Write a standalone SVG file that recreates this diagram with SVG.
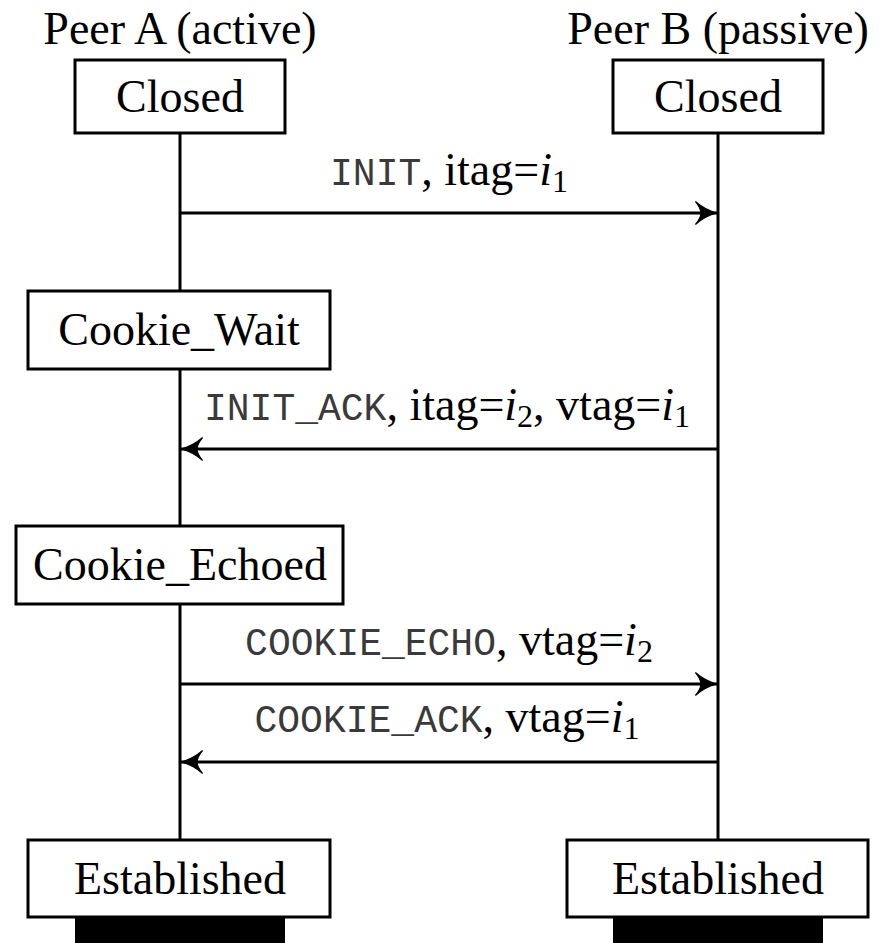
<svg xmlns="http://www.w3.org/2000/svg" width="882" height="943" viewBox="0 0 882 943">
  <style>
    .box { fill: #fff; stroke: #000; stroke-width: 3; }
    .life { stroke: #000; stroke-width: 3; fill: none; }
    .msg { stroke: #000; stroke-width: 3; fill: none; }
    .serif { font-family: "Liberation Serif", "Times New Roman", serif; font-size: 46px; fill: #000; }
    .state { text-anchor: middle; }
    .mono { font-family: "Liberation Mono", "Courier New", monospace; font-size: 38px; fill: #3a3a3a; }
    .it { font-style: italic; }
    .sub { font-size: 32px; }
    .foot { fill: #000; }
  </style>
  <defs>
    <marker id="head" viewBox="0 0 20 20" refX="18" refY="10" markerWidth="27" markerHeight="27" markerUnits="userSpaceOnUse" orient="auto">
      <path d="M18,10 C12,8.5 6,5 2,1.5 C5,5 6,8 6,10 C6,12 5,15 2,18.5 C6,15 12,11.5 18,10 Z" fill="#000" stroke="#000" stroke-width="0.8"/>
    </marker>
  </defs>

  <!-- peer headings -->
  <g id="peer-a-title">
    <text class="serif state" x="180" y="44">Peer A (active)</text>
  </g>
  <g id="peer-b-title">
    <text class="serif state" x="718" y="44">Peer B (passive)</text>
  </g>

  <!-- lifelines and messages -->
  <g id="connectors">
    <line class="life" x1="180" y1="133" x2="180" y2="291"/>
    <line class="life" x1="180" y1="369" x2="180" y2="526"/>
    <line class="life" x1="180" y1="604" x2="180" y2="840"/>
    <line class="life" x1="718" y1="133" x2="718" y2="840"/>

    <line class="msg" x1="180" y1="213" x2="717" y2="213" marker-end="url(#head)"/>
    <line class="msg" x1="718" y1="449" x2="181" y2="449" marker-end="url(#head)"/>
    <line class="msg" x1="180" y1="684" x2="717" y2="684" marker-end="url(#head)"/>
    <line class="msg" x1="718" y1="762" x2="181" y2="762" marker-end="url(#head)"/>

    <text class="serif" x="449" y="185" text-anchor="middle"><tspan class="mono">INIT</tspan>, itag=<tspan class="it">i</tspan><tspan class="sub" dy="7">1</tspan></text>
    <text class="serif" x="447" y="420" text-anchor="middle"><tspan class="mono">INIT_ACK</tspan>, itag=<tspan class="it">i</tspan><tspan class="sub" dy="7">2</tspan><tspan dy="-7">, vtag=</tspan><tspan class="it">i</tspan><tspan class="sub" dy="7">1</tspan></text>
    <text class="serif" x="449" y="655" text-anchor="middle"><tspan class="mono">COOKIE_ECHO</tspan>, vtag=<tspan class="it">i</tspan><tspan class="sub" dy="7">2</tspan></text>
    <text class="serif" x="447" y="732" text-anchor="middle"><tspan class="mono">COOKIE_ACK</tspan>, vtag=<tspan class="it">i</tspan><tspan class="sub" dy="7">1</tspan></text>
  </g>

  <!-- Peer A states -->
  <g id="a-closed">
    <rect class="box" x="75" y="60" width="210" height="73"/>
    <text class="serif state" x="180" y="112">Closed</text>
  </g>
  <g id="a-cookie-wait">
    <rect class="box" x="28" y="291" width="302" height="78"/>
    <text class="serif state" x="179" y="345">Cookie_Wait</text>
  </g>
  <g id="a-cookie-echoed">
    <rect class="box" x="16" y="526" width="327" height="78"/>
    <text class="serif state" x="180" y="580">Cookie_Echoed</text>
  </g>
  <g id="a-established">
    <rect class="box" x="28" y="840" width="302" height="77"/>
    <text class="serif state" x="180" y="894">Established</text>
    <rect class="foot" x="75" y="917" width="210" height="26"/>
  </g>

  <!-- Peer B states -->
  <g id="b-closed">
    <rect class="box" x="613" y="60" width="210" height="73"/>
    <text class="serif state" x="718" y="112">Closed</text>
  </g>
  <g id="b-established">
    <rect class="box" x="567" y="840" width="301" height="77"/>
    <text class="serif state" x="718" y="894">Established</text>
    <rect class="foot" x="613" y="917" width="210" height="26"/>
  </g>
</svg>
